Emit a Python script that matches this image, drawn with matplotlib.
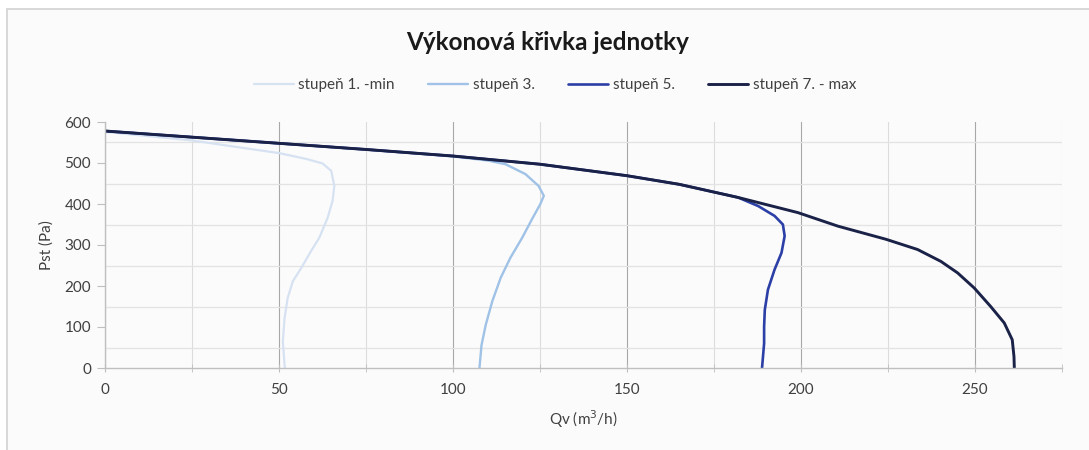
import matplotlib
matplotlib.use("Agg")
import matplotlib.pyplot as plt
from matplotlib.patches import Rectangle
from matplotlib.ticker import MultipleLocator

plt.rcParams['font.family'] = ['Lato', 'DejaVu Sans']

title = "Výkonová křivka jednotky"
x_label = "Qv (m$^3$/h)"
y_label = "Pst (Pa)"

labels = ["stupeň 1. -min", "stupeň 3.", "stupeň 5.", "stupeň 7. - max"]
colors = ["#d6e2f2", "#9fc2e6", "#2b3fa6", "#1b2248"]
widths = [1.6, 1.7, 1.9, 2.1]

q1 = [0, 25, 38.7, 50.1, 57.8, 62.5, 65, 65.9, 65.4, 64, 61.6, 59.2, 56.4, 54, 52.5, 51.6, 51.1, 51.6, 51.7]
p1 = [576, 555, 538, 524, 510, 499, 481, 444, 408, 367, 318, 285, 244, 212, 171, 122, 65, 7, 0]

q3 = [0, 25, 50, 75, 100, 110, 115.1, 120.8, 124.6, 126.1, 125.1, 122.7, 119.9, 116.5, 113.7, 111.3, 109.4, 108.2, 107.6]
p3 = [578, 563, 548, 533, 516, 506, 497, 473, 444, 420, 400, 363, 318, 269, 220, 163, 105, 56, 0]

q5 = [0, 25, 50, 75, 100, 125, 150, 165, 181.9, 187.7, 192.4, 194.8, 195.3, 194.4, 192.4, 190.5, 189.6, 189.4, 189.4, 188.8]
p5 = [578, 563, 548, 533, 517, 497, 469, 448, 416, 395, 371, 350, 322, 281, 240, 191, 142, 101, 60, 0]

q7 = [0, 25, 50, 75, 100, 125, 150, 165, 181.9, 199.1, 210.6, 224.4, 233.5, 240.2, 245, 249.8, 254.5, 258.4, 260.7, 261.2, 261.3]
p7 = [578, 563, 548, 533, 517, 497, 469, 448, 416, 379, 346, 314, 289, 260, 232, 195, 150, 110, 69, 28, 0]

series_q = [q1, q3, q5, q7]
series_p = [p1, p3, p5, p7]

fig = plt.figure(figsize=(10.89, 4.5), dpi=100, facecolor="white")
fig.patches.append(Rectangle((7/1089, -0.2), 1.2, 1.2 - 9/450, transform=fig.transFigure,
                             facecolor="#fbfbfb", edgecolor="#d2d2d2", linewidth=1.2, zorder=-10))

ax = fig.add_axes([105/1089, 82/450, (1062-105)/1089, 246/450])
ax.set_zorder(1)
ax.set_facecolor("none")
ax.set_xlim(0, 275)
ax.set_ylim(0, 600)

ax.xaxis.set_major_locator(MultipleLocator(50))
ax.xaxis.set_minor_locator(MultipleLocator(25))
ax.yaxis.set_major_locator(MultipleLocator(100))
ax.yaxis.set_minor_locator(MultipleLocator(50))

# gridlines
ax.grid(which="major", axis="x", color="#a8a8a8", linewidth=0.8)
ax.grid(which="minor", axis="x", color="#dcdcdc", linewidth=0.8)
ax.grid(which="minor", axis="y", color="#e3e3e3", linewidth=0.9)
ax.set_axisbelow(True)

for s in ["top", "right"]:
    ax.spines[s].set_visible(False)
for s in ["left", "bottom"]:
    ax.spines[s].set_color("#bfbfbf")
    ax.spines[s].set_linewidth(1.0)

ax.tick_params(axis="x", which="both", direction="inout", length=6, color="#bfbfbf",
               labelsize=11, labelcolor="#404040", pad=8)
ax.tick_params(axis="x", which="minor", length=6)
ax.tick_params(axis="y", which="major", direction="out", length=6, color="#bfbfbf",
               labelsize=11, labelcolor="#404040", pad=4)
ax.tick_params(axis="y", which="minor", length=0)

for q, p, c, w, lab in zip(series_q, series_p, colors, widths, labels):
    ax.plot(q, p, color=c, linewidth=w, label=lab, solid_capstyle="round", solid_joinstyle="round")

ax.set_xlabel(x_label, fontsize=11, color="#404040", labelpad=8)
ax.set_ylabel(y_label, fontsize=11, color="#404040", labelpad=8)

fig.text(548/1089, 1 - 42/450, title, ha="center", va="center", fontsize=17.5,
         fontweight="bold", color="#1a1a1a")

handles, labs = ax.get_legend_handles_labels()
fig.legend(handles, labs, loc="center", bbox_to_anchor=(555/1089, 1 - 85/450), ncol=4,
           frameon=False, fontsize=11, handlelength=2.6, handletextpad=0.3,
           columnspacing=2.2, labelcolor="#404040")

fig.savefig("out.png", dpi=100, facecolor="white")
